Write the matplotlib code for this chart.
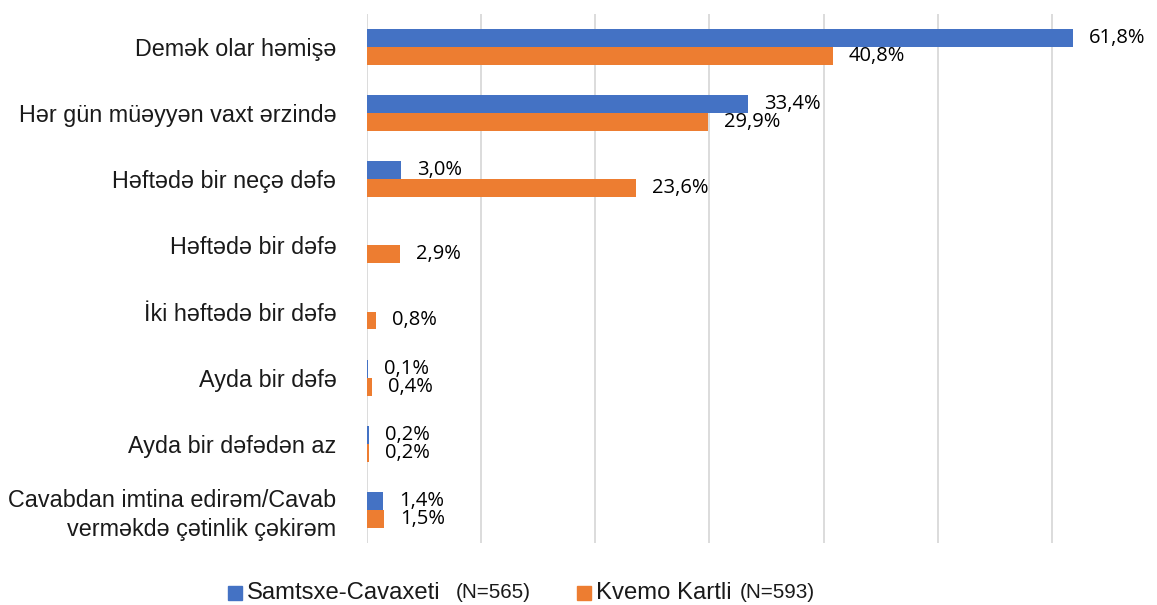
import numpy as np
import matplotlib
matplotlib.use("Agg")
import matplotlib.pyplot as plt
from matplotlib.patches import Rectangle

categories = [
    "Demək olar həmişə",
    "Hər gün müəyyən vaxt ərzində",
    "Həftədə bir neçə dəfə",
    "Həftədə bir dəfə",
    "İki həftədə bir dəfə",
    "Ayda bir dəfə",
    "Ayda bir dəfədən az",
    "Cavabdan imtina edirəm/Cavab\nverməkdə çətinlik çəkirəm",
]
samtsxe = [61.8, 33.4, 3.0, np.nan, np.nan, 0.1, 0.2, 1.4]
kvemo = [40.8, 29.9, 23.6, 2.9, 0.8, 0.4, 0.2, 1.5]
series_names = ["Samtsxe-Cavaxeti", "Kvemo Kartli"]
series_n = ["(N=565)", "(N=593)"]
colors = ["#4472C4", "#ED7D31"]

W, H = 1157, 605
fig = plt.figure(figsize=(W / 100, H / 100), dpi=100)
ax = fig.add_axes([367 / W, 62 / H, 790 / W, 529 / H])

y = np.arange(len(categories))
bh = 0.27
for vals, off, c in [(samtsxe, -bh / 2, colors[0]), (kvemo, bh / 2, colors[1])]:
    v = np.nan_to_num(np.array(vals, dtype=float))
    ax.barh(y + off, v, height=bh, color=c, zorder=3)
    for yi, val in zip(y, vals):
        if np.isnan(val):
            continue
        ax.annotate(f"{val:.1f}%".replace(".", ","), (val, yi + off),
                    xytext=(11.5, 0), textcoords="offset points",
                    va="center", ha="left", fontsize=14.5,
                    family="Open Sans", color="#000000")

ax.set_xlim(0, 69.2)
ax.set_ylim(len(categories) - 0.5, -0.5)
ax.set_xticks(np.arange(0, 70, 10))
ax.xaxis.grid(True, color="#D9D9D9", linewidth=1.3, zorder=0)
ax.tick_params(axis="x", length=0, labelbottom=False)
ax.set_yticks(y)
ax.set_yticklabels(categories, fontsize=16.8, family="Liberation Sans",
                   color="#1a1a1a", linespacing=1.3)
ax.tick_params(axis="y", length=0, pad=22)
for s in ax.spines.values():
    s.set_visible(False)

# legend
ly = 1 - 593 / H
fig.patches.append(Rectangle((228 / W, 1 - 600 / H), 14 / W, 14 / H,
                             transform=fig.transFigure, color=colors[0]))
fig.text(247 / W, ly, series_names[0], fontsize=17.2, family="Liberation Sans",
         va="center", ha="left", color="#1a1a1a")
fig.text(456 / W, ly, series_n[0], fontsize=14.9, family="Liberation Sans",
         va="center", ha="left", color="#1a1a1a")
fig.patches.append(Rectangle((577 / W, 1 - 600 / H), 14 / W, 14 / H,
                             transform=fig.transFigure, color=colors[1]))
fig.text(596 / W, ly, series_names[1], fontsize=17.2, family="Liberation Sans",
         va="center", ha="left", color="#1a1a1a")
fig.text(740 / W, ly, series_n[1], fontsize=14.9, family="Liberation Sans",
         va="center", ha="left", color="#1a1a1a")

fig.savefig("out.png", dpi=100)
